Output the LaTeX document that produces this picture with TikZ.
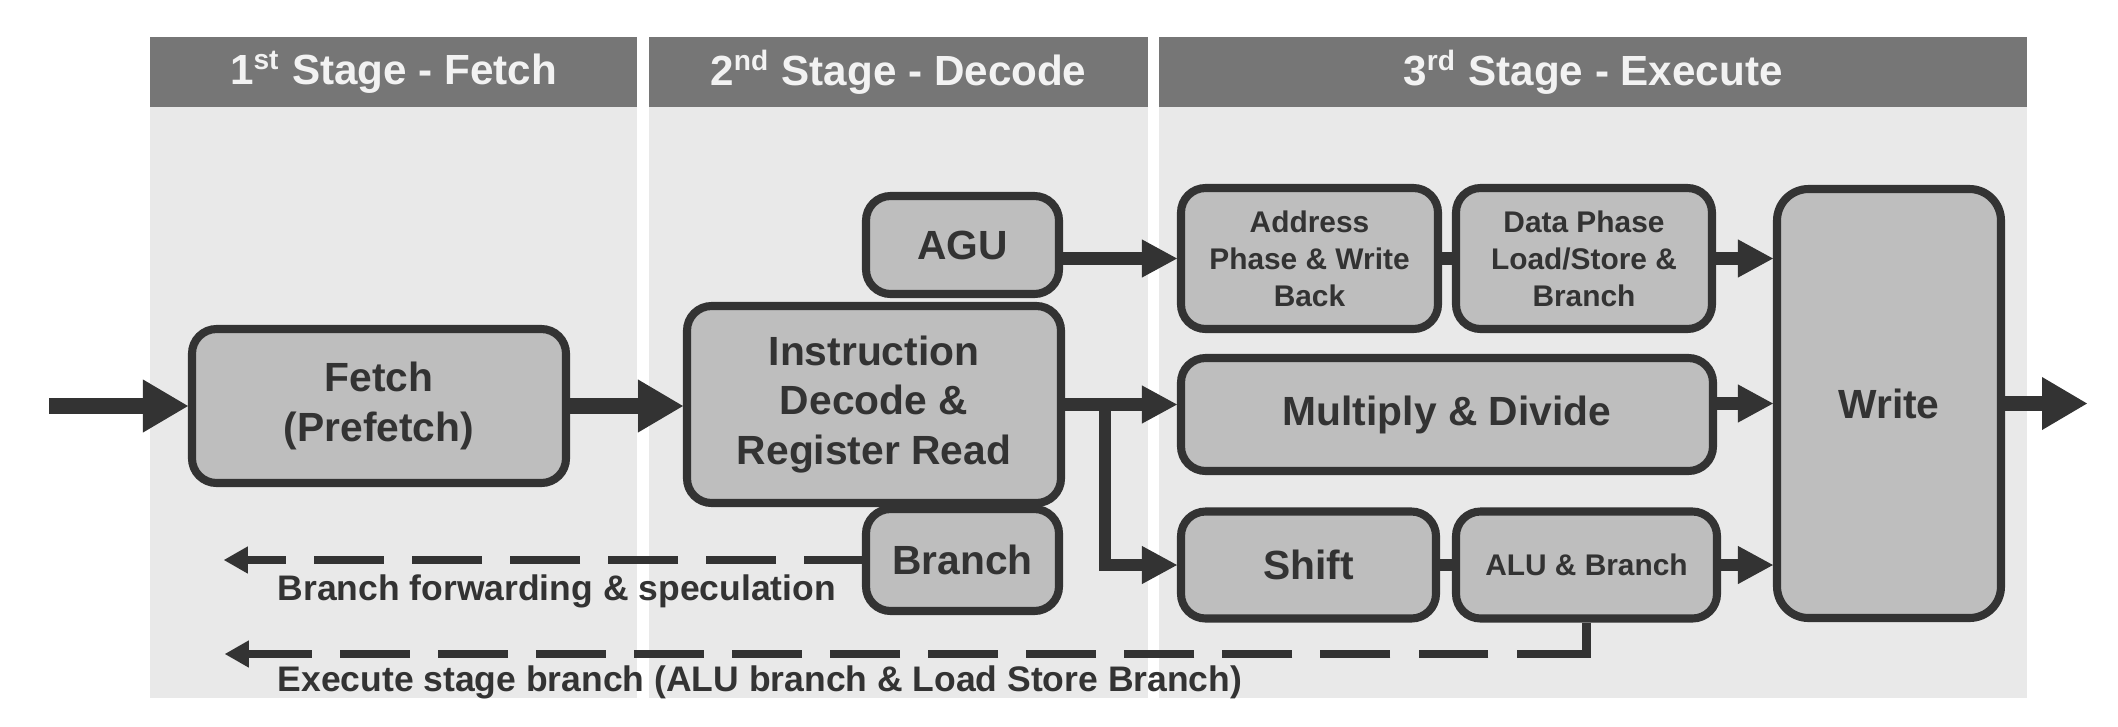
\documentclass[tikz,border=0pt]{standalone}
\usepackage{fontspec}
\setmainfont{Liberation Sans}
\usetikzlibrary{arrows.meta}
\definecolor{ink}{HTML}{333333}
\definecolor{boxgray}{HTML}{BEBEBE}
\definecolor{panelgray}{HTML}{E9E9E9}
\definecolor{hdrgray}{HTML}{767676}
\definecolor{hdrtext}{HTML}{F2F2F2}

\begin{document}
\begin{tikzpicture}[
  blk/.style={draw=ink, fill=boxgray, line width=2.3pt, rounded corners=7pt, text=ink, align=center, inner sep=0pt, font=\fontsize{11.6}{14}\selectfont\bfseries},
  smallblk/.style={blk, font=\fontsize{8.5}{10.5}\selectfont\bfseries},
  hdr/.style={fill=hdrgray, text=hdrtext, minimum height=0.70cm, inner sep=0pt, font=\fontsize{12}{14}\selectfont\bfseries},
  bigflow/.style={draw=ink, line width=4.5pt, -{Triangle[length=12.8pt,width=15pt,line width=0.4pt]}},
  flow/.style={draw=ink, line width=3.6pt, -{Triangle[length=10pt,width=10.8pt,line width=0.4pt]}},
  stub/.style={draw=ink, line width=3.6pt},
  backpath/.style={draw=ink, line width=2.3pt, dash pattern=on 19.9pt off 8pt, -{Triangle[length=6.8pt,width=7.7pt,line width=0.4pt]}},
  lbl/.style={text=ink, inner sep=0pt, anchor=base west, font=\fontsize{10.1}{12}\selectfont\bfseries}
]
\useasboundingbox (0,0) rectangle (21.18,7.26);

\fill[panelgray] (1.50,0.28) rectangle (6.37,6.19);
\fill[panelgray] (6.49,0.28) rectangle (11.48,6.19);
\fill[panelgray] (11.59,0.28) rectangle (20.27,6.19);
\node[hdr, minimum width=4.87cm] (hdrfetch) at (3.935,6.54) {1\textsuperscript{st} Stage - Fetch};
\node[hdr, minimum width=4.99cm] (hdrdecode) at (8.985,6.54) {2\textsuperscript{nd} Stage - Decode};
\node[hdr, minimum width=8.68cm] (hdrexec) at (15.93,6.54) {3\textsuperscript{rd} Stage - Execute};

\node[blk, minimum width=3.74cm, minimum height=1.54cm] (fetch) at (3.79,3.20) {Fetch\\(Prefetch)};
\node[blk, minimum width=3.74cm, minimum height=1.97cm] (decode) at (8.74,3.215) {Instruction\\Decode \&\\Register Read};
\node[blk, minimum width=1.93cm, minimum height=0.98cm] (agu) at (9.625,4.81) {AGU};
\node[blk, minimum width=1.93cm, minimum height=1.02cm] (branch) at (9.625,1.66) {Branch};
\node[smallblk, minimum width=2.57cm, minimum height=1.41cm] (addr) at (13.095,4.675) {Address\\Phase \& Write\\Back};
\node[smallblk, minimum width=2.56cm, minimum height=1.41cm] (data) at (15.84,4.675) {Data Phase\\Load/Store \&\\Branch};
\node[blk, minimum width=5.32cm, minimum height=1.13cm] (mult) at (14.47,3.115) {Multiply \& Divide};
\node[blk, minimum width=2.55cm, minimum height=1.07cm] (shift) at (13.085,1.61) {Shift};
\node[smallblk, minimum width=2.61cm, minimum height=1.07cm] (alu) at (15.865,1.61) {ALU \& Branch};
\node[blk, rounded corners=9pt, minimum width=2.24cm, minimum height=4.29cm] (write) at (18.89,3.225) {Write};

\coordinate (in) at (0.49,3.20);
\coordinate (out) at (20.87,3.225);
\draw[bigflow] (in) -- (fetch.west);
\draw[bigflow] (fetch.east) -- (fetch.east -| decode.west);
\draw[bigflow] (write.east) -- (out);

\draw[flow] (addr.west -| agu.east) -- (addr.west);
\draw[stub] (addr.east) -- (data.west);
\draw[flow] (data.east) -- (data.east -| write.west);
\draw[flow] (decode.east) -- (decode.east -| mult.west);
\draw[flow] (mult.east |- write.west) -- (write.west);
\coordinate (split) at (decode.east -| 11.05,0);
\draw[flow] (split) |- (shift.west);
\draw[stub] (shift.east) -- (alu.west);
\draw[flow] (alu.east) -- (alu.east -| write.west);

\coordinate (bfwd) at (2.24,1.66);
\draw[backpath, dash phase=3.5pt] (branch.west) -- (bfwd);
\node[lbl] (bfwdlbl) at (2.77,1.26) {Branch forwarding \& speculation};

\coordinate (xturn) at (alu.south |- 0,0.72);
\coordinate (xfwd) at (2.25,0.72);
\draw[ink, line width=2.6pt] (alu.south) -- ([yshift=-1.15pt]xturn);
\draw[backpath] (xturn) -- (xfwd);
\node[lbl] (xfwdlbl) at (2.77,0.35) {Execute stage branch (ALU branch \& Load Store Branch)};

\end{tikzpicture}
\end{document}
